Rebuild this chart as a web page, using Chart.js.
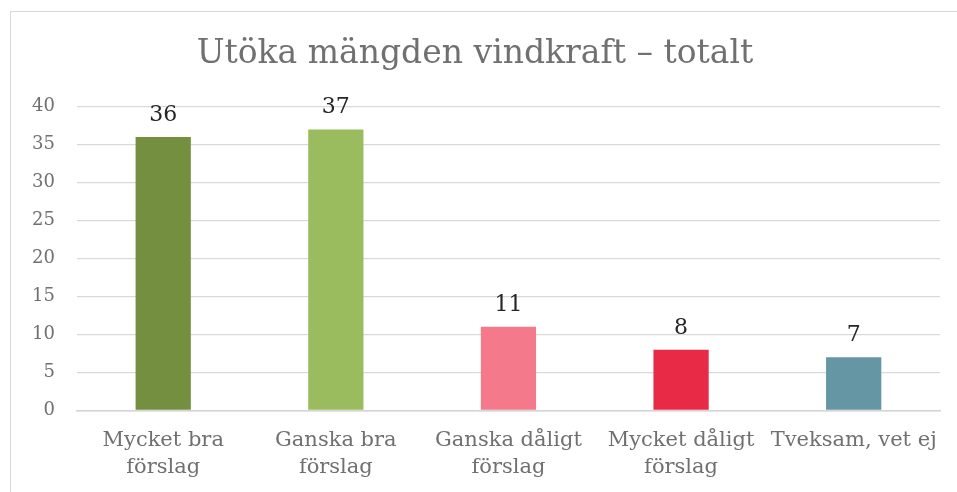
<!DOCTYPE html>
<html>
<head>
<meta charset="utf-8">
<script src="https://cdn.jsdelivr.net/npm/chart.js@4/dist/chart.umd.min.js"></script>
<style>
  html, body { margin: 0; padding: 0; background: #fff; overflow: hidden; }
  #frame { position: absolute; left: 10px; top: 11px; width: 960px; height: 500px; border: 1px solid #d9d9d9; box-sizing: border-box; }
  #wrap { position: absolute; left: 0; top: 0; width: 957px; height: 497px; }
</style>
</head>
<body>
<div id="frame"></div>
<div id="wrap"><canvas id="c"></canvas></div>
<script>
// Kategorier och värden (andel i %)
const categories = [
  ['Mycket bra', 'förslag'],
  ['Ganska bra', 'förslag'],
  ['Ganska dåligt', 'förslag'],
  ['Mycket dåligt', 'förslag'],
  'Tveksam, vet ej'
];
const values = [36, 37, 11, 8, 7];
const barColors = ['#758f40', '#9bbb5f', '#f47a8b', '#e82a46', '#6496a4'];
const yTicks = [0, 5, 10, 15, 20, 25, 30, 35, 40];

const SERIF = '"DejaVu Serif", "Liberation Serif", serif';

// värdeetiketter ovanför staplarna
const valueLabels = {
  id: 'valueLabels',
  afterDatasetsDraw(chart) {
    const ctx = chart.ctx;
    const meta = chart.getDatasetMeta(0);
    ctx.save();
    ctx.font = '22px ' + SERIF;
    ctx.fillStyle = '#262626';
    ctx.textAlign = 'center';
    ctx.textBaseline = 'alphabetic';
    meta.data.forEach((bar, i) => {
      ctx.fillText(String(values[i]), bar.x, bar.y - 16);
    });
    ctx.restore();
  }
};

new Chart(document.getElementById('c'), {
  type: 'bar',
  data: {
    labels: categories,
    datasets: [{
      data: values,
      backgroundColor: barColors,
      borderWidth: 0,
      categoryPercentage: 1,
      barPercentage: 0.32
    }]
  },
  options: {
    responsive: true,
    maintainAspectRatio: false,
    animation: false,
    layout: { padding: { left: 10, right: 17, top: 12, bottom: 0 } },
    plugins: {
      legend: { display: false },
      tooltip: { enabled: false },
      title: {
        display: true,
        text: 'Utöka mängden vindkraft – totalt',
        color: '#707070',
        font: { family: SERIF, size: 33, weight: 'normal' },
        padding: { top: 23, bottom: 32 }
      }
    },
    scales: {
      x: {
        grid: { display: false, drawTicks: false },
        border: { display: true, color: '#d4d4d4', width: 1.5 },
        ticks: {
          color: '#707070',
          font: { family: SERIF, size: 21, lineHeight: 1.3 },
          padding: 16,
          maxRotation: 0,
          autoSkip: false
        }
      },
      y: {
        min: 0,
        max: 40,
        afterBuildTicks: axis => { axis.ticks = yTicks.map(v => ({ value: v })); },
        grid: { color: '#d9d9d9', lineWidth: 1.3, drawTicks: false },
        border: { display: false },
        ticks: {
          color: '#707070',
          font: { family: SERIF, size: 18 },
          padding: 22
        }
      }
    }
  },
  plugins: [valueLabels]
});
</script>
</body>
</html>
